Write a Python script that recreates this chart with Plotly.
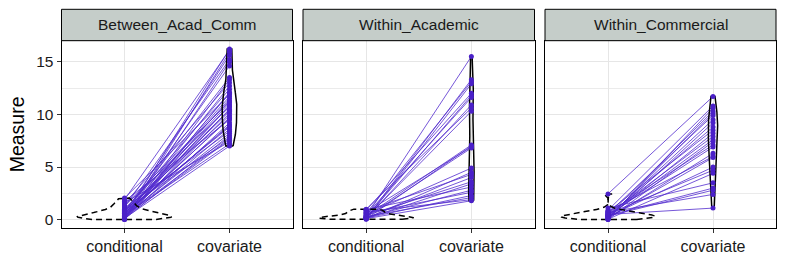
import numpy as np
import plotly.graph_objects as go

# ---------------- data ----------------
panels = ["Between_Acad_Comm", "Within_Academic", "Within_Commercial"]
conditions = ["conditional", "covariate"]

between_conditional = [0.35, 1.9, 0.08, 0.6, 1.2, 0.02, 0.45, 0.75, 0.15, 1.5, 0.28, 0.9, 0.05,
                       2.05, 0.4, 0.12, 1.0, 0.55, 0.22, 1.3, 0.03, 0.65, 0.18, 0.85, 0.32,
                       1.75, 0.1, 0.48, 0.7, 0.25, 1.1, 0.38, 0.07, 0.95, 0.2, 1.6, 0.42,
                       0.13, 0.8, 0.3, 1.4, 0.5, 0.27, 0.62, 0.36]
between_covariate = [16.2, 16.1, 15.9, 15.6, 15.2, 15.0, 14.6, 13.5, 13.3, 13.0, 12.7, 12.4, 12.1,
                     11.9, 11.7, 11.5, 11.3, 11.1, 10.9, 10.7, 10.5, 10.3, 10.1, 9.9, 9.7,
                     9.5, 9.2, 9.0, 8.8, 8.6, 8.4, 8.2, 8.0, 7.8, 7.6, 7.4, 7.2,
                     7.0, 10.4, 10.8, 11.2, 9.6, 12.0, 8.9, 7.7]

academic_conditional = [0.3, 0.12, 0.6, 0.05, 0.9, 0.2, 0.45, 0.1, 1.0, 0.15, 0.35, 0.08, 0.7,
                        0.25, 0.5, 0.1, 0.85, 0.18, 0.4, 0.12, 0.95, 0.22, 0.6, 0.15, 0.3,
                        0.75, 0.1]
academic_covariate = [15.5, 13.3, 13.1, 12.9, 12.0, 11.8, 11.6, 10.9, 10.6, 10.3, 7.1, 7.0, 6.9,
                      6.8, 4.9, 4.5, 4.3, 4.0, 3.6, 3.4, 3.1, 2.8, 2.6, 2.3, 2.1,
                      1.9, 1.8]

commercial_conditional = [2.45, 0.9, 0.05, 0.4, 0.15, 0.6, 0.25, 0.1, 0.35, 0.75, 0.2, 0.5, 0.3,
                          0.02, 0.65, 0.45, 0.1, 0.8, 0.2, 0.3, 0.55, 0.05, 1.1, 0.4, 0.35,
                          0.7, 0.5]
commercial_covariate = [11.7, 10.8, 10.6, 10.3, 10.1, 9.9, 9.5, 9.2, 8.8, 8.5, 8.2, 7.9, 7.6,
                        7.4, 7.1, 6.9, 6.3, 6.0, 5.9, 5.0, 4.7, 4.4, 3.5, 3.0, 2.8,
                        2.4, 1.1]

panel_data = [
    (between_conditional, between_covariate),
    (academic_conditional, academic_covariate),
    (commercial_conditional, commercial_covariate),
]

y_ticks = [0, 5, 10, 15]

# ---------------- layout geometry ----------------
W, H = 786, 255
panel_px = [(61.5, 292.5), (303.0, 534.5), (545.0, 776.0)]
panel_top, panel_bot = 40.7, 228.0
strip_top = 9.3
y_range = [-0.79, 17.0]

LINE_COL = "rgba(80,40,205,0.78)"
PT_COL = "#4a20c8"
FONT = "Liberation Sans, Arial, sans-serif"


def kde(vals):
    v = np.asarray(vals, dtype=float)
    n = len(v)
    sd = v.std(ddof=1)
    q75, q25 = np.percentile(v, [75, 25])
    lo = min(sd, (q75 - q25) / 1.34)
    if lo <= 0:
        lo = sd
    bw = 0.9 * lo * n ** -0.2
    grid = np.linspace(v.min(), v.max(), 512)
    dens = np.exp(-0.5 * ((grid[:, None] - v[None, :]) / bw) ** 2).sum(1) / (n * bw * np.sqrt(2 * np.pi))
    return grid, dens


fig = go.Figure()

for i, (name, (cond, cov)) in enumerate(zip(panels, panel_data)):
    xa = "x" if i == 0 else f"x{i+1}"
    ya = "y" if i == 0 else f"y{i+1}"
    # paired lines
    lx, ly = [], []
    for a, b in zip(cond, cov):
        lx += [1, 2, None]
        ly += [a, b, None]
    fig.add_trace(go.Scatter(x=lx, y=ly, mode="lines", xaxis=xa, yaxis=ya,
                             line=dict(color=LINE_COL, width=1.0), hoverinfo="skip",
                             showlegend=False))
    # violins (area scaled within panel)
    dens_list = [kde(cond), kde(cov)]
    maxd = max(d.max() for _, d in dens_list)
    for k, (g, d) in enumerate(dens_list):
        half = 0.45 * d / maxd
        cx = k + 1
        vx = np.concatenate([cx + half, (cx - half)[::-1], [cx + half[0]]])
        vy = np.concatenate([g, g[::-1], [g[0]]])
        fig.add_trace(go.Scatter(x=vx, y=vy, mode="lines", xaxis=xa, yaxis=ya,
                                 line=dict(color="black", width=1.5,
                                           dash="6px,4px" if k == 0 else "solid"),
                                 hoverinfo="skip", showlegend=False))
    # points
    fig.add_trace(go.Scatter(x=[1] * len(cond) + [2] * len(cov), y=list(cond) + list(cov),
                             mode="markers", xaxis=xa, yaxis=ya,
                             marker=dict(color=PT_COL, size=5), showlegend=False))

    x0, x1 = panel_px[i]
    dom = [x0 / W, x1 / W]
    xkey = "xaxis" if i == 0 else f"xaxis{i+1}"
    ykey = "yaxis" if i == 0 else f"yaxis{i+1}"
    fig.layout[xkey] = dict(domain=dom, anchor=ya, range=[0.4, 2.6],
                            tickvals=[1, 2], ticktext=conditions,
                            showgrid=True, gridcolor="#e6e6e6", gridwidth=1.2,
                            zeroline=False, showline=True, linecolor="black", linewidth=1,
                            mirror=True, ticks="outside", ticklen=4, tickcolor="#333333",
                            tickfont=dict(size=16, color="#1a1a1a", family=FONT))
    fig.layout[ykey] = dict(domain=[1 - panel_bot / H, 1 - panel_top / H], anchor=xa,
                            range=y_range, tickvals=y_ticks,
                            ticktext=[str(t) for t in y_ticks] if i == 0 else None,
                            showticklabels=(i == 0),
                            showgrid=True, gridcolor="#e6e6e6", gridwidth=1.2,
                            minor=dict(tickvals=[2.5, 7.5, 12.5], showgrid=True,
                                       gridcolor="#ebebeb", gridwidth=0.7, ticks=""),
                            zeroline=False, showline=True, linecolor="black", linewidth=1,
                            mirror=True, ticks="outside" if i == 0 else "", ticklen=4,
                            tickcolor="#333333",
                            tickfont=dict(size=15.5, color="#1a1a1a", family=FONT))
    # strip
    fig.add_shape(type="rect", xref="paper", yref="paper",
                  x0=x0 / W, x1=x1 / W, y0=1 - panel_top / H, y1=1 - strip_top / H,
                  fillcolor="#c5cdc9", line=dict(color="black", width=1), layer="above")
    fig.add_annotation(text=name, xref="paper", yref="paper",
                       x=(x0 + x1) / 2 / W, y=1 - (strip_top + panel_top) / 2 / H,
                       showarrow=False, xanchor="center", yanchor="middle",
                       font=dict(size=15.5, color="#1a1a1a", family=FONT))

fig.add_annotation(text="Measure", xref="paper", yref="paper",
                   x=17 / W, y=1 - (panel_top + panel_bot) / 2 / H, textangle=-90,
                   showarrow=False, xanchor="center", yanchor="middle",
                   font=dict(size=19.5, color="black", family=FONT))

fig.update_layout(width=W, height=H, margin=dict(l=0, r=0, t=0, b=0),
                  paper_bgcolor="white", plot_bgcolor="white", showlegend=False)

fig.write_html("out.html")
